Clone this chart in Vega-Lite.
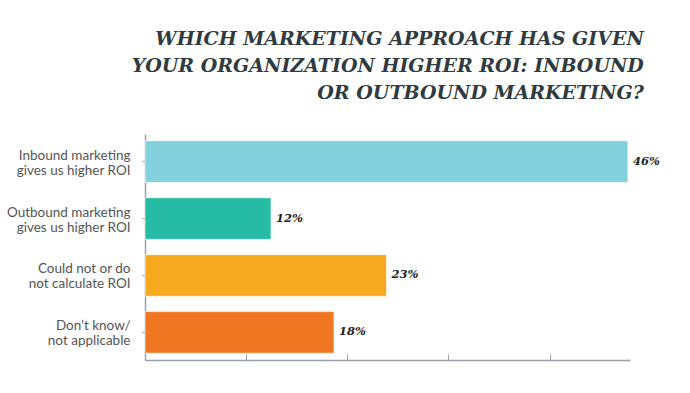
{
  "$schema": "https://vega.github.io/schema/vega-lite/v6.json",
  "autosize": "none",
  "width": 485,
  "height": 226,
  "padding": {"left": 145, "top": 134, "right": 60, "bottom": 33},
  "background": "white",
  "title": {
    "text": ["WHICH MARKETING APPROACH HAS GIVEN", "YOUR ORGANIZATION HIGHER ROI: INBOUND", "OR OUTBOUND MARKETING?"],
    "anchor": "end",
    "align": "right",
    "font": "DejaVu Serif",
    "fontStyle": "italic",
    "fontWeight": "bold",
    "fontSize": 19,
    "lineHeight": 27,
    "color": "#2f3b40",
    "offset": 31,
    "dx": -16
  },
  "data": {
    "values": [
      {"answer": "Inbound marketing|gives us higher ROI", "pct": 46, "label": "46%"},
      {"answer": "Outbound marketing|gives us higher ROI", "pct": 12, "label": "12%"},
      {"answer": "Could not or do|not calculate ROI", "pct": 23, "label": "23%"},
      {"answer": "Don’t know/|not applicable", "pct": 18, "label": "18%"}
    ]
  },
  "encoding": {
    "y": {
      "field": "answer",
      "type": "nominal",
      "sort": null,
      "title": null,
      "scale": {"paddingInner": 0.27, "paddingOuter": 0.12},
      "axis": {
        "labelExpr": "split(datum.value, '|')",
        "labelFont": "Lato",
        "labelFontSize": 13.5,
        "labelColor": "#555555",
        "labelLineHeight": 15,
        "labelPadding": 12,
        "labelOffset": -6,
        "tickSize": 3,
        "tickColor": "#9aa0a6",
        "domainColor": "#9aa0a6",
        "domainWidth": 1.5
      }
    },
    "x": {
      "field": "pct",
      "type": "quantitative",
      "title": null,
      "scale": {"domain": [0, 46.2], "nice": false, "zero": true},
      "axis": {
        "values": [9.6, 19.25, 28.9, 38.55],
        "labels": false,
        "grid": false,
        "tickSize": -6,
        "tickColor": "#9aa0a6",
        "domainColor": "#9aa0a6",
        "domainWidth": 1.5
      }
    }
  },
  "layer": [
    {
      "mark": {"type": "bar", "stroke": "#ffffff", "strokeOpacity": 0.6, "strokeWidth": 1},
      "encoding": {
        "color": {
          "field": "answer",
          "type": "nominal",
          "legend": null,
          "sort": null,
          "scale": {"range": ["#82d1dc", "#26bba4", "#f6a81f", "#f17621"]}
        }
      }
    },
    {
      "mark": {"type": "text", "align": "left", "dx": 5, "font": "DejaVu Serif", "fontStyle": "italic", "fontWeight": "bold", "fontSize": 11.5, "color": "#222222"},
      "encoding": {"text": {"field": "label"}}
    }
  ],
  "config": {"view": {"stroke": null}}
}
